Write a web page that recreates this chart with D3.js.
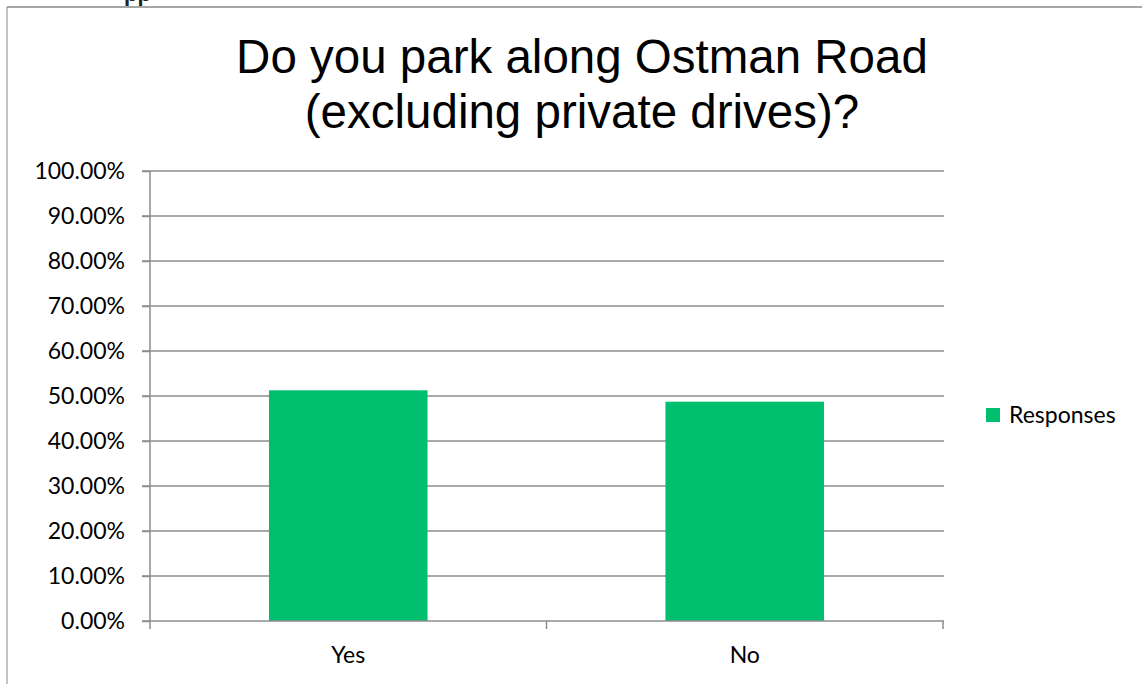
<!DOCTYPE html>
<html><head><meta charset="utf-8">
<script src="https://cdn.jsdelivr.net/npm/d3@7"></script>
<style>html,body{margin:0;padding:0;background:#fff;}svg{display:block;}</style>
</head><body>
<svg id="chart" width="1142" height="684"></svg>
<script>
const categories = ["Yes", "No"];
const values = [0.5127, 0.4873];
const seriesName = "Responses";
const titleLines = ["Do you park along Ostman Road", "(excluding private drives)?"];
const yTicks = [0, 0.1, 0.2, 0.3, 0.4, 0.5, 0.6, 0.7, 0.8, 0.9, 1.0];

const svg = d3.select("#chart");
const W = 1142, H = 684;
const m = {left: 150, right: 943, top: 171, bottom: 621};
const barColor = "#00bf6f";
const gridColor = "#8c8c8c";
const labFont = "Lato, 'Open Sans', sans-serif";
const labSize = 23;

// frame
svg.append("line").attr("x1", 7).attr("x2", W).attr("y1", 7).attr("y2", 7)
  .attr("stroke", "#888").attr("stroke-width", 1.5);
svg.append("line").attr("x1", 7).attr("x2", 7).attr("y1", 7).attr("y2", H)
  .attr("stroke", "#888").attr("stroke-width", 1);
// cut-off text fragment at top (descenders of a heading above the chart)
svg.append("text").attr("x", 124).attr("y", 1).attr("font-family", "'Liberation Sans', Arial, sans-serif")
  .attr("font-size", 22).attr("font-weight", "bold").attr("fill", "#222").text("pp");

const x = d3.scaleBand().domain(categories).range([m.left, m.right]).paddingInner(0).paddingOuter(0);
const y = d3.scaleLinear().domain([0, 1]).range([m.bottom, m.top]);

// gridlines
svg.append("g").selectAll("line").data(yTicks.filter(d => d > 0)).join("line")
  .attr("x1", m.left - 8).attr("x2", m.right + 1)
  .attr("y1", d => y(d)).attr("y2", d => y(d))
  .attr("stroke", gridColor).attr("stroke-width", 1.5);

// bars
const bw = x.bandwidth() * 0.4;
svg.append("g").selectAll("rect").data(categories).join("rect")
  .attr("x", (d) => x(d) + (x.bandwidth() - bw) / 2)
  .attr("y", (d, i) => y(values[i]))
  .attr("width", bw)
  .attr("height", (d, i) => y(0) - y(values[i]))
  .attr("fill", barColor);

// y axis
const yAxis = d3.axisLeft(y).tickValues(yTicks).tickSize(8).tickPadding(17)
  .tickFormat(d => (d * 100).toFixed(2) + "%");
const gy = svg.append("g").attr("transform", `translate(${m.left},0)`).call(yAxis);
gy.select(".domain").attr("stroke", gridColor).attr("stroke-width", 1.5).attr("d", `M0,${m.top}V${m.bottom}`);
gy.selectAll(".tick line").attr("stroke", gridColor).attr("stroke-width", 1.5);
gy.selectAll(".tick text").attr("font-family", labFont).attr("font-size", labSize).attr("fill", "#000");

// x axis
const xAxis = d3.axisBottom(x).tickSize(0).tickPadding(26);
const gx = svg.append("g").attr("transform", `translate(0,${m.bottom})`).call(xAxis);
gx.select(".domain").attr("stroke", gridColor).attr("stroke-width", 1.5)
  .attr("d", `M${m.left - 8},0H${m.right + 1}`);
gx.selectAll(".tick text").attr("font-family", labFont).attr("font-size", labSize).attr("fill", "#000");
// category boundary ticks
const bounds = [m.left, ...categories.map(c => x(c) + x.bandwidth())];
svg.append("g").selectAll("line").data(bounds).join("line")
  .attr("x1", d => d).attr("x2", d => d).attr("y1", m.bottom).attr("y2", m.bottom + 8)
  .attr("stroke", gridColor).attr("stroke-width", 1.5);

// title
svg.append("text").attr("text-anchor", "middle").attr("font-family", "'Liberation Sans', Arial, sans-serif")
  .attr("font-size", 47.5).attr("fill", "#000")
  .selectAll("tspan").data(titleLines).join("tspan")
  .attr("x", 582).attr("y", (d, i) => 73 + i * 55).text(d => d);

// legend
const lg = svg.append("g").attr("transform", "translate(986,408)");
lg.append("rect").attr("width", 14).attr("height", 14).attr("fill", barColor);
lg.append("text").attr("x", 23).attr("y", 15).attr("font-family", labFont).attr("font-size", labSize)
  .attr("fill", "#000").text(seriesName);
</script>
</body></html>
